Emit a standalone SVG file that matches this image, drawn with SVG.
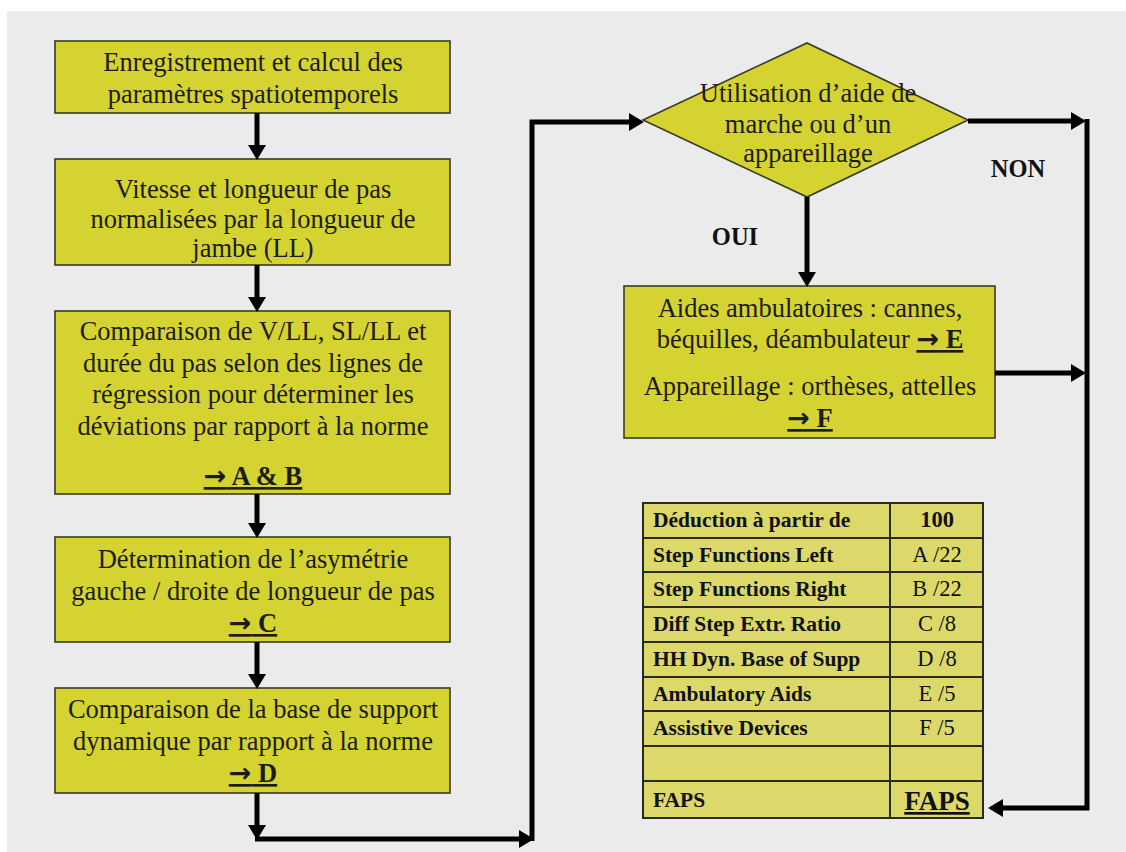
<svg xmlns="http://www.w3.org/2000/svg" width="1126" height="852" viewBox="0 0 1126 852">
<defs>
<marker id="ah" markerUnits="userSpaceOnUse" markerWidth="16" markerHeight="18" refX="2" refY="9" orient="auto">
<path d="M0,0 L15,9 L0,18 z" fill="#000"/>
</marker>
<style>
.box{fill:#d4d332;stroke:#3a3a28;stroke-width:1.6}
.t{font-family:"Liberation Serif","Times New Roman",serif;font-size:26.5px;fill:#1c1c10;text-anchor:middle}
.b{font-weight:bold}
.u{text-decoration:underline}
.ar{font-family:"DejaVu Sans",sans-serif;font-weight:bold;font-size:27px}
.lab{font-family:"Liberation Serif","Times New Roman",serif;font-size:24.5px;font-weight:bold;fill:#111;text-anchor:middle}
.cell{fill:#dcd96a;stroke:#2a2a20;stroke-width:2}
.tl{font-family:"Liberation Serif","Times New Roman",serif;font-size:21.5px;font-weight:bold;fill:#111}
.tr{font-family:"Liberation Serif","Times New Roman",serif;font-size:22.5px;fill:#111;text-anchor:middle}
.c{fill:none;stroke:#000;stroke-width:5}
</style>
</defs>
<rect x="0" y="0" width="1126" height="852" fill="#ffffff"/>
<rect x="7" y="11" width="1119" height="841" fill="#ebebeb"/>

<g id="n1">
<rect class="box" x="55" y="41" width="395" height="72"/>
<text class="t" x="253" y="71">Enregistrement et calcul des</text>
<text class="t" x="253" y="103">paramètres spatiotemporels</text>
</g>
<g id="n2">
<rect class="box" x="55" y="159" width="395" height="106"/>
<text class="t" x="253" y="198">Vitesse et longueur de pas</text>
<text class="t" x="253" y="228">normalisées par la longueur de</text>
<text class="t" x="253" y="257">jambe (LL)</text>
</g>
<g id="n3">
<rect class="box" x="55" y="311" width="395" height="183"/>
<text class="t" x="253" y="340">Comparaison de V/LL, SL/LL et</text>
<text class="t" x="253" y="372">durée du pas selon des lignes de</text>
<text class="t" x="253" y="403">régression pour déterminer les</text>
<text class="t" x="253" y="435">déviations par rapport à la norme</text>
<text class="t b u" x="253" y="485"><tspan class="ar">→</tspan> A &amp; B</text>
</g>
<g id="n4">
<rect class="box" x="55" y="537" width="395" height="105"/>
<text class="t" x="253" y="568">Détermination de l’asymétrie</text>
<text class="t" x="253" y="600">gauche / droite de longueur de pas</text>
<text class="t b u" x="253" y="632"><tspan class="ar">→</tspan> C</text>
</g>
<g id="n5">
<rect class="box" x="55" y="688" width="395" height="105"/>
<text class="t" x="253" y="718">Comparaison de la base de support</text>
<text class="t" x="253" y="750">dynamique par rapport à la norme</text>
<text class="t b u" x="253" y="782"><tspan class="ar">→</tspan> D</text>
</g>
<g id="n6">
<polygon class="box" points="643,120 807,43 968,120 807,197"/>
<text class="t" x="808" y="102">Utilisation d’aide de</text>
<text class="t" x="808" y="133">marche ou d’un</text>
<text class="t" x="808" y="162">appareillage</text>
</g>
<g id="n7">
<rect class="box" x="624" y="286" width="371" height="152"/>
<text class="t" x="810" y="317">Aides ambulatoires : cannes,</text>
<text class="t" x="810" y="348">béquilles, déambulateur <tspan class="b u"><tspan class="ar">→</tspan> E</tspan></text>
<text class="t" x="810" y="395">Appareillage : orthèses, attelles</text>
<text class="t b u" x="810" y="427"><tspan class="ar">→</tspan> F</text>
</g>
<g id="n8">
<rect class="cell" x="643" y="503" width="247" height="35"/><rect class="cell" x="890" y="503" width="93" height="35"/>
<rect class="cell" x="643" y="538" width="247" height="34"/><rect class="cell" x="890" y="538" width="93" height="34"/>
<rect class="cell" x="643" y="572" width="247" height="35"/><rect class="cell" x="890" y="572" width="93" height="35"/>
<rect class="cell" x="643" y="607" width="247" height="35"/><rect class="cell" x="890" y="607" width="93" height="35"/>
<rect class="cell" x="643" y="642" width="247" height="35"/><rect class="cell" x="890" y="642" width="93" height="35"/>
<rect class="cell" x="643" y="677" width="247" height="34"/><rect class="cell" x="890" y="677" width="93" height="34"/>
<rect class="cell" x="643" y="711" width="247" height="35"/><rect class="cell" x="890" y="711" width="93" height="35"/>
<rect class="cell" x="643" y="746" width="247" height="35"/><rect class="cell" x="890" y="746" width="93" height="35"/>
<rect class="cell" x="643" y="781" width="247" height="37"/><rect class="cell" x="890" y="781" width="93" height="37"/>
<text class="tl" x="653" y="527">Déduction à partir de</text>
<text class="tr b" x="937" y="527">100</text>
<text class="tl" x="653" y="562">Step Functions Left</text>
<text class="tr" x="937" y="562">A /22</text>
<text class="tl" x="653" y="596">Step Functions Right</text>
<text class="tr" x="937" y="596">B /22</text>
<text class="tl" x="653" y="631">Diff Step Extr. Ratio</text>
<text class="tr" x="937" y="631">C /8</text>
<text class="tl" x="653" y="666">HH Dyn. Base of Supp</text>
<text class="tr" x="937" y="666">D /8</text>
<text class="tl" x="653" y="701">Ambulatory Aids</text>
<text class="tr" x="937" y="701">E /5</text>
<text class="tl" x="653" y="735">Assistive Devices</text>
<text class="tr" x="937" y="735">F /5</text>
<text class="tl" x="653" y="807">FAPS</text>
<text class="tr b u" x="937" y="810" style="font-size:27px">FAPS</text>
</g>

<g id="connectors">
<path class="c" d="M257,113 V147" marker-end="url(#ah)"/>
<path class="c" d="M257,265 V299" marker-end="url(#ah)"/>
<path class="c" d="M257,494 V525" marker-end="url(#ah)"/>
<path class="c" d="M257,642 V676" marker-end="url(#ah)"/>
<path class="c" d="M257,793 V827" marker-end="url(#ah)"/>
<path class="c" d="M255,839 H521" marker-end="url(#ah)"/>
<path class="c" d="M532,841 V122 H631" marker-end="url(#ah)"/>
<path class="c" d="M968,121 H1073" marker-end="url(#ah)"/>
<path class="c" d="M1087,119 V808 H1001" marker-end="url(#ah)"/>
<path class="c" d="M807,197 V274" marker-end="url(#ah)"/>
<path class="c" d="M995,373 H1073" marker-end="url(#ah)"/>
</g>
<g id="labels">
<text class="lab" x="735" y="245">OUI</text>
<text class="lab" x="1018" y="177">NON</text>
</g>
</svg>
